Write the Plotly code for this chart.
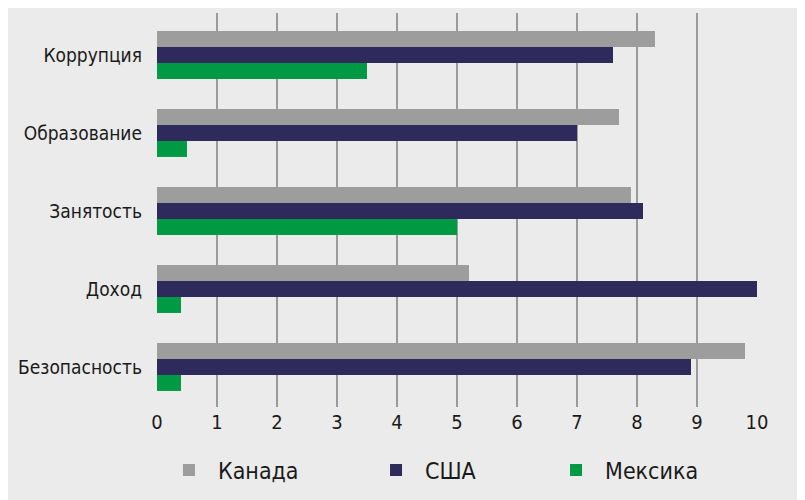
import plotly.graph_objects as go

categories = ["Коррупция", "Образование", "Занятость", "Доход", "Безопасность"]
canada = [8.3, 7.7, 7.9, 5.2, 9.8]
usa = [7.6, 7.0, 8.1, 10.0, 8.9]
mexico = [3.5, 0.5, 5.0, 0.4, 0.4]
tick_vals = list(range(0, 11))

FONT = "Liberation Sans Narrow, DejaVu Sans Condensed, sans-serif"

fig = go.Figure()
fig.add_trace(go.Bar(y=categories, x=canada, name="Канада", orientation="h",
                     marker=dict(color="#9d9d9d", line_width=0), legend="legend"))
fig.add_trace(go.Bar(y=categories, x=usa, name="США", orientation="h",
                     marker=dict(color="#2e2b5c", line_width=0), legend="legend2"))
fig.add_trace(go.Bar(y=categories, x=mexico, name="Мексика", orientation="h",
                     marker=dict(color="#009a44", line_width=0), legend="legend3"))

# one legend per country so the gaps can follow the original
leg = dict(orientation="h", xref="container", yref="container", xanchor="left",
           y=0.076, yanchor="middle", font=dict(size=23), itemwidth=48,
           bgcolor="rgba(0,0,0,0)")

fig.update_layout(
    width=805, height=500,
    paper_bgcolor="#ebebeb", plot_bgcolor="#ebebeb",
    margin=dict(l=149, r=56, t=5, b=101),
    barmode="group", bargap=0.385, bargroupgap=0,
    font=dict(family=FONT, color="#1a1a1a", size=20),
    showlegend=True,
    legend=dict(leg, x=0.1888),
    legend2=dict(leg, x=0.446),
    legend3=dict(leg, x=0.6696),
)
fig.update_xaxes(range=[0, 10], tickvals=tick_vals, showgrid=True, gridcolor="#9a9a9a",
                 gridwidth=2, zeroline=False, showline=False, ticks="",
                 ticklabelstandoff=1, automargin=False, tickfont=dict(size=20))
fig.update_yaxes(categoryorder="array", categoryarray=categories,
                 range=[4.513, -0.538], showgrid=False, zeroline=False,
                 ticks="", ticklabelstandoff=14, automargin=False,
                 tickfont=dict(size=19))

fig.write_html("out.html")
